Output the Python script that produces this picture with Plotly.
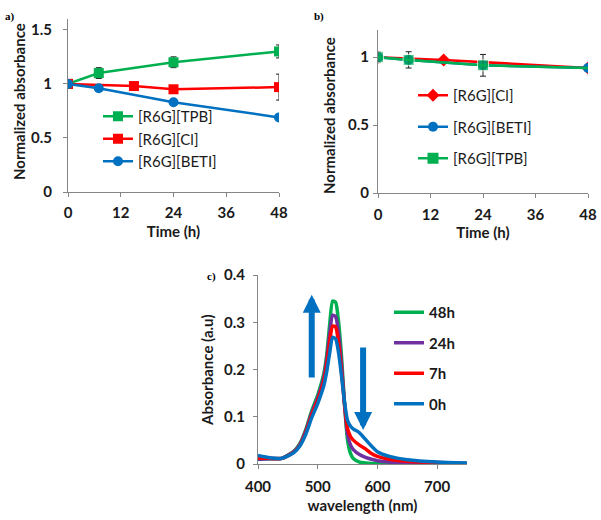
import plotly.graph_objects as go

# ---------------- Data ----------------
# Panel a
a_tpb_t = [0, 7, 24, 48]
a_tpb_y = [1.0, 1.1, 1.2, 1.3]
a_tpb_err = [0.0, 0.05, 0.05, 0.06]
a_cl_t = [0, 15, 24, 48]
a_cl_y = [1.0, 0.98, 0.95, 0.97]
a_cl_err = [0.0, 0.0, 0.0, 0.12]
a_beti_t = [0, 7, 24, 48]
a_beti_y = [1.0, 0.96, 0.83, 0.69]

# Panel b
b_cl_t = [0, 15, 48]
b_cl_y = [1.0, 0.98, 0.92]
b_beti_t = [0, 7, 24, 48]
b_beti_y = [1.0, 0.98, 0.94, 0.92]
b_tpb_t = [0, 7, 24, 48]
b_tpb_y = [1.0, 0.98, 0.94, 0.92]
b_tpb_err = [0.04, 0.06, 0.08, 0.0]

time_ticks = [0, 12, 24, 36, 48]

# Panel c
wl = [400, 420, 440, 460, 470, 480, 490, 500, 510, 515, 520, 525, 530, 535, 540,
      545, 550, 555, 560, 570, 580, 590, 600, 620, 650, 700, 750]
abs_48h = [0.010, 0.011, 0.012, 0.027, 0.043, 0.073, 0.113, 0.146, 0.190, 0.230, 0.295,
           0.345, 0.342, 0.300, 0.225, 0.125, 0.050, 0.022, 0.011, 0.004, 0.002, 0.001,
           0.001, 0.0, 0.0, 0.0, 0.0]
abs_24h = [0.010, 0.011, 0.012, 0.026, 0.041, 0.070, 0.108, 0.140, 0.182, 0.220, 0.275,
           0.315, 0.312, 0.275, 0.208, 0.125, 0.062, 0.040, 0.030, 0.020, 0.014, 0.010,
           0.007, 0.004, 0.002, 0.001, 0.0]
abs_7h = [0.012, 0.012, 0.012, 0.025, 0.040, 0.067, 0.104, 0.135, 0.175, 0.210, 0.258,
          0.292, 0.290, 0.255, 0.195, 0.125, 0.075, 0.058, 0.050, 0.040, 0.032, 0.022,
          0.016, 0.010, 0.006, 0.003, 0.001]
abs_0h = [0.018, 0.013, 0.012, 0.024, 0.038, 0.063, 0.098, 0.128, 0.165, 0.195, 0.235,
          0.268, 0.265, 0.235, 0.185, 0.130, 0.092, 0.080, 0.074, 0.066, 0.052, 0.038,
          0.026, 0.016, 0.009, 0.004, 0.002]

GREEN = "#00B050"
RED = "#FF0000"
BLUE = "#0070C0"
PURPLE = "#7030A0"
AXC = "#868686"
FONT = "Lato"
TXT = "#1a1a1a"

fig = go.Figure()

err_style = dict(type="data", color="#222222", thickness=1, width=3)

# ---- Panel a ----
fig.add_trace(go.Scatter(x=a_tpb_t, y=a_tpb_y, name="[R6G][TPB]", mode="lines+markers",
                         line=dict(color=GREEN, width=2.5),
                         marker=dict(symbol="square", size=10, color=GREEN),
                         error_y=dict(array=a_tpb_err, **err_style),
                         xaxis="x", yaxis="y", legend="legend", legendgroup="a1"))
fig.add_trace(go.Scatter(x=a_cl_t, y=a_cl_y, name="[R6G][Cl]", mode="lines+markers",
                         line=dict(color=RED, width=2.5),
                         marker=dict(symbol="square", size=10, color=RED),
                         error_y=dict(array=a_cl_err, **err_style),
                         xaxis="x", yaxis="y", legend="legend", legendgroup="a2"))
fig.add_trace(go.Scatter(x=a_beti_t, y=a_beti_y, name="[R6G][BETI]", mode="lines+markers",
                         line=dict(color=BLUE, width=2.5),
                         marker=dict(symbol="circle", size=10, color=BLUE),
                         xaxis="x", yaxis="y", legend="legend", legendgroup="a3"))

# ---- Panel b ----
fig.add_trace(go.Scatter(x=b_cl_t, y=b_cl_y, name="[R6G][Cl]", mode="lines+markers",
                         line=dict(color=RED, width=2.5),
                         marker=dict(symbol="diamond", size=10, color=RED),
                         xaxis="x2", yaxis="y2", legend="legend2", legendgroup="b1"))
fig.add_trace(go.Scatter(x=b_beti_t, y=b_beti_y, name="[R6G][BETI]", mode="lines+markers",
                         line=dict(color=BLUE, width=2.5),
                         marker=dict(symbol="circle", size=10, color=BLUE),
                         xaxis="x2", yaxis="y2", legend="legend2", legendgroup="b2"))
fig.add_trace(go.Scatter(x=b_tpb_t, y=b_tpb_y, name="[R6G][TPB]", mode="lines+markers",
                         line=dict(color=GREEN, width=2.5),
                         marker=dict(symbol="square", size=[11, 11, 11, 0], color=GREEN),
                         error_y=dict(array=b_tpb_err, **err_style),
                         xaxis="x2", yaxis="y2", showlegend=False, legendgroup="b3"))
# legend-only entry for TPB (uniform marker size in the key)
fig.add_trace(go.Scatter(x=[None], y=[None], name="[R6G][TPB]", mode="lines+markers",
                         line=dict(color=GREEN, width=2.5),
                         marker=dict(symbol="square", size=11, color=GREEN),
                         xaxis="x2", yaxis="y2", legend="legend2", legendgroup="b3"))

# ---- Panel c ----
for name, ys, col, g in [("48h", abs_48h, GREEN, "c1"), ("24h", abs_24h, PURPLE, "c2"),
                         ("7h", abs_7h, RED, "c3"), ("0h", abs_0h, BLUE, "c4")]:
    fig.add_trace(go.Scatter(x=wl, y=ys, name=name, mode="lines",
                             line=dict(color=col, width=3.5, shape="spline", smoothing=0.6),
                             xaxis="x3", yaxis="y3", legend="legend3", legendgroup=g))

W, H = 601, 520
def px(x):
    return x / W
def py(y):
    return 1 - y / H

axis_common = dict(showgrid=False, zeroline=False, showline=True, linecolor=AXC, linewidth=1,
                   ticks="outside", tickcolor=AXC, ticklen=4, automargin=False,
                   tickfont=dict(family=FONT, size=15, color=TXT, weight="bold"),
                   title_font=dict(family=FONT, size=15, color=TXT, weight="bold"))

fig.update_layout(
    width=W, height=H, margin=dict(l=0, r=0, t=0, b=0, autoexpand=False),
    paper_bgcolor="white", plot_bgcolor="white",
    font=dict(family=FONT, color=TXT),
    xaxis=dict(domain=[px(68), px(279)], range=[0, 48], tickvals=time_ticks, anchor="y",
               ticklabelstandoff=3, title=dict(text="Time (h)", standoff=6), **axis_common),
    yaxis=dict(domain=[py(192), py(19)], range=[0, 1.6], tickvals=[0, 0.5, 1, 1.5], anchor="x",
               ticklabelstandoff=8, **axis_common),
    xaxis2=dict(domain=[px(378), px(588)], range=[0, 48], tickvals=time_ticks, anchor="y2",
                ticklabelstandoff=4, title=dict(text="Time (h)", standoff=4), **axis_common),
    yaxis2=dict(domain=[py(193), py(30)], range=[0, 1.2], tickvals=[0, 0.5, 1], anchor="x2",
                ticklabelstandoff=1, **axis_common),
    xaxis3=dict(domain=[px(258), px(467)], range=[400, 750], tickvals=[400, 500, 600, 700],
                anchor="y3", ticklabelstandoff=5,
                title=dict(text="wavelength (nm)", standoff=6), **axis_common),
    yaxis3=dict(domain=[py(464), py(275)], range=[0, 0.4], tickvals=[0, 0.1, 0.2, 0.3, 0.4],
                anchor="x3", ticklabelstandoff=5, **axis_common),
    legend=dict(x=px(98), y=py(100), xanchor="left", yanchor="top", bgcolor="rgba(0,0,0,0)",
                font=dict(family=FONT, size=15, color=TXT), traceorder="grouped",
                tracegroupgap=0, itemwidth=30),
    legend2=dict(x=px(413), y=py(79), xanchor="left", yanchor="top", bgcolor="rgba(0,0,0,0)",
                 font=dict(family=FONT, size=15, color=TXT), traceorder="grouped",
                 tracegroupgap=9, itemwidth=30),
    legend3=dict(x=px(389), y=py(296), xanchor="left", yanchor="top", bgcolor="rgba(0,0,0,0)",
                 font=dict(family=FONT, size=15, color=TXT, weight="bold"),
                 traceorder="grouped", tracegroupgap=8, itemwidth=30),
    showlegend=True,
)

# Y-axis titles (as rotated annotations for exact placement)
ttl_font = dict(family=FONT, size=15, color=TXT, weight="bold")
for txt, xc, yc in [("Normalized absorbance", 19, 102),
                    ("Normalized absorbance", 329, 116),
                    ("Absorbance (a.u)", 207, 370)]:
    fig.add_annotation(text=txt, x=px(xc), y=py(yc), xref="paper", yref="paper",
                       xanchor="center", yanchor="middle", textangle=-90,
                       showarrow=False, font=ttl_font)

# Panel labels
lbl_font = dict(family="Liberation Serif", size=11, color="black", weight="bold")
fig.add_annotation(text="a)", x=px(3), y=py(16), xref="paper", yref="paper",
                   xanchor="left", yanchor="middle", showarrow=False, font=lbl_font)
fig.add_annotation(text="b)", x=px(312), y=py(16), xref="paper", yref="paper",
                   xanchor="left", yanchor="middle", showarrow=False, font=lbl_font)
fig.add_annotation(text="c)", x=px(205), y=py(276), xref="paper", yref="paper",
                   xanchor="left", yanchor="middle", showarrow=False, font=lbl_font)

# Arrows in panel c
arrow = dict(xref="x3", yref="y3", axref="x3", ayref="y3", showarrow=True, text="",
             arrowhead=2, arrowsize=0.6, arrowwidth=6, arrowcolor=BLUE)
fig.add_annotation(x=490, y=0.358, ax=490, ay=0.18, **arrow)
fig.add_annotation(x=576, y=0.072, ax=576, ay=0.25, **arrow)

fig.write_html("out.html", config={"displayModeBar": False},
               post_script="document.body.style.margin='0px';")
